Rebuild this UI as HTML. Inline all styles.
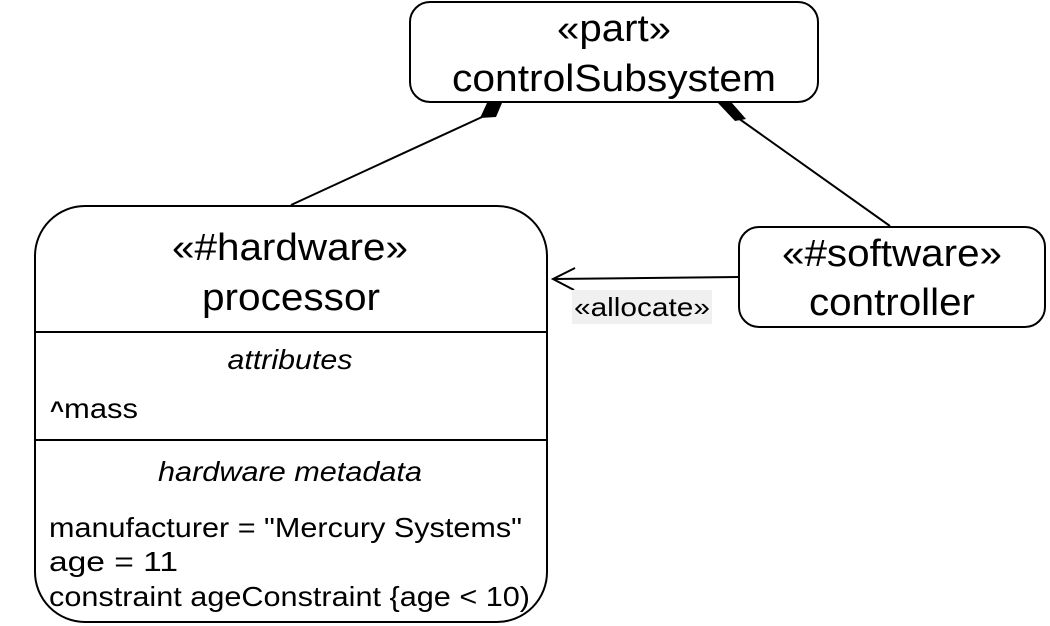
<!DOCTYPE html>
<html><head><meta charset="utf-8"><style>html,body{margin:0;padding:0;background:#fff}svg{display:block}</style></head>
<body>
<svg width="1050" height="626" viewBox="0 0 1050 626" xmlns="http://www.w3.org/2000/svg" font-family="Liberation Sans, Arial, sans-serif" fill="#000">
<rect x="410" y="2" width="408" height="100" rx="20" fill="#fff" stroke="#000" stroke-width="2"/>
<text x="614" y="41" font-size="38" text-anchor="middle" textLength="114" lengthAdjust="spacingAndGlyphs">«part»</text>
<text x="614" y="91" font-size="38" text-anchor="middle" textLength="324" lengthAdjust="spacingAndGlyphs">controlSubsystem</text>

<line x1="291" y1="205" x2="482" y2="117" stroke="#000" stroke-width="2"/>
<polygon points="487,103 502,103 496,117 480,118" fill="#000"/>
<line x1="890" y1="226" x2="738" y2="118" stroke="#000" stroke-width="2"/>
<polygon points="718,103 732,103 746,119 735,121" fill="#000"/>

<rect x="35" y="206" width="512" height="416" rx="50" fill="#fff" stroke="#000" stroke-width="2"/>
<line x1="35" y1="332" x2="547" y2="332" stroke="#000" stroke-width="2"/>
<line x1="35" y1="440" x2="547" y2="440" stroke="#000" stroke-width="2"/>
<text x="290" y="260" font-size="38" text-anchor="middle" textLength="236" lengthAdjust="spacingAndGlyphs">«#hardware»</text>
<text x="291" y="310" font-size="38" text-anchor="middle" textLength="178" lengthAdjust="spacingAndGlyphs">processor</text>
<text x="290" y="369" font-size="28" font-style="italic" text-anchor="middle" textLength="125" lengthAdjust="spacingAndGlyphs">attributes</text>
<text x="50" y="418" font-size="28"><tspan font-weight="bold" font-size="24">^</tspan><tspan textLength="74" lengthAdjust="spacingAndGlyphs">mass</tspan></text>
<text x="290" y="481" font-size="28" font-style="italic" text-anchor="middle" textLength="264" lengthAdjust="spacingAndGlyphs">hardware metadata</text>
<text x="49" y="537" font-size="28" textLength="473" lengthAdjust="spacingAndGlyphs">manufacturer = "Mercury Systems"</text>
<text x="49" y="571" font-size="28" textLength="129" lengthAdjust="spacingAndGlyphs">age = 11</text>
<text x="49" y="606" font-size="28" textLength="481" lengthAdjust="spacingAndGlyphs">constraint ageConstraint {age &lt; 10)</text>

<rect x="739" y="227" width="306" height="100" rx="20" fill="#fff" stroke="#000" stroke-width="2"/>
<text x="892" y="266" font-size="38" text-anchor="middle" textLength="220" lengthAdjust="spacingAndGlyphs">«#software»</text>
<text x="892" y="315" font-size="38" text-anchor="middle" textLength="166" lengthAdjust="spacingAndGlyphs">controller</text>

<line x1="739" y1="277" x2="553" y2="279" stroke="#000" stroke-width="2"/>
<polyline points="575,268 553,279 574,290" fill="none" stroke="#000" stroke-width="2"/>
<rect x="572" y="290" width="140" height="34" fill="#f0f0f0"/>
<text x="642" y="316" font-size="26" text-anchor="middle" textLength="136" lengthAdjust="spacingAndGlyphs">«allocate»</text>
</svg>
</body></html>
